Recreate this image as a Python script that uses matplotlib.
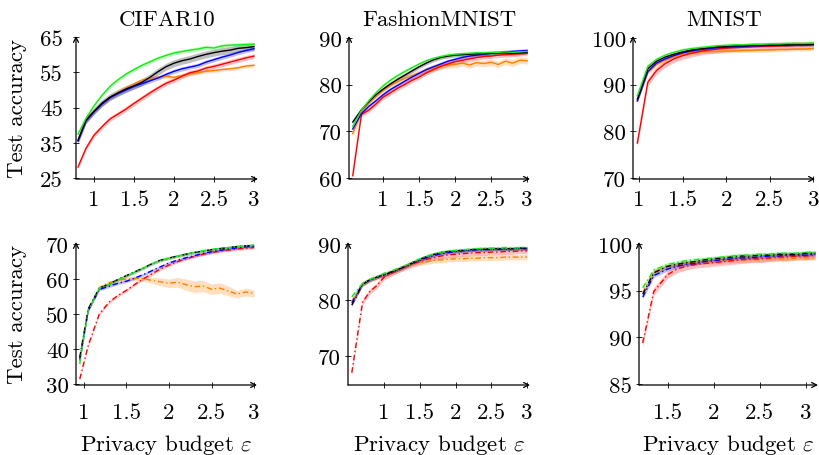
import matplotlib
matplotlib.use("Agg")
import matplotlib.pyplot as plt
import numpy as np

plt.rcParams['font.family'] = ['cmr10', 'DejaVu Serif']
plt.rcParams['mathtext.fontset'] = 'cm'
plt.rcParams['axes.formatter.use_mathtext'] = True

# ---------------- data ----------------
series_names = ['orange', 'red', 'blue', 'black', 'green']
series_colors = ['#ff8000', '#ff0000', '#0000ff', '#000000', '#18e818']

# CIFAR10 (top)
c10_eps = [0.8, 0.9, 1.0, 1.1, 1.2, 1.3, 1.4, 1.5, 1.6, 1.7, 1.8, 1.9, 2.0, 2.1, 2.2, 2.3, 2.4, 2.5, 2.6, 2.7, 2.8, 2.9, 3.0]
c10_green = [37.5, 42.0, 45.5, 48.5, 51.0, 52.9, 54.5, 55.8, 57.0, 58.0, 59.0, 59.8, 60.5, 60.9, 61.3, 61.6, 62.1, 61.9, 62.5, 62.7, 62.8, 62.9, 63.0]
c10_red = [28.2, 33.5, 37.2, 39.6, 41.8, 43.2, 44.6, 46.2, 47.7, 49.2, 50.6, 51.9, 52.8, 53.9, 54.9, 55.4, 56.2, 56.7, 57.3, 57.9, 58.5, 59.1, 59.6]
c10_black = [35.8, 41.5, 44.0, 46.3, 48.0, 49.2, 50.3, 51.2, 52.2, 53.6, 55.2, 56.6, 57.6, 58.3, 58.8, 59.5, 60.1, 60.6, 61.0, 61.3, 61.8, 62.0, 62.3]
c10_blue = [35.5, 41.2, 43.8, 46.0, 47.8, 49.0, 50.0, 51.0, 51.8, 52.6, 53.4, 54.4, 55.3, 56.0, 56.5, 57.0, 57.9, 58.6, 59.3, 59.9, 60.6, 61.2, 61.7]
c10_orange = [35.8, 41.3, 43.9, 46.1, 47.9, 49.3, 50.6, 51.7, 52.8, 53.4, 53.6, 53.9, 53.6, 54.1, 54.6, 54.9, 55.3, 55.5, 55.8, 56.0, 56.3, 56.8, 57.0]
c10_band = [0.5, 0.7, 0.6, 1.0, 0.6]

# FashionMNIST (top)
fm_eps = [0.58, 0.7, 0.8, 0.9, 1.0, 1.1, 1.2, 1.3, 1.4, 1.5, 1.6, 1.7, 1.8, 1.9, 2.0, 2.1, 2.2, 2.3, 2.4, 2.5, 2.6, 2.7, 2.8, 2.9, 3.0]
fm_green = [71.0, 74.5, 76.5, 78.2, 79.7, 80.9, 81.9, 82.8, 83.6, 84.4, 85.1, 85.6, 86.0, 86.3, 86.5, 86.6, 86.7, 86.8, 86.8, 86.9, 86.9, 87.0, 86.9, 87.0, 87.1]
fm_red = [60.5, 73.6, 74.5, 75.8, 77.3, 78.2, 79.2, 80.0, 80.9, 81.6, 82.5, 83.2, 83.9, 84.4, 84.9, 85.2, 85.5, 85.8, 86.0, 86.1, 86.3, 86.4, 86.5, 86.6, 86.7]
fm_black = [72.0, 74.6, 76.3, 77.8, 79.0, 80.1, 81.1, 82.0, 82.9, 83.8, 84.6, 85.3, 85.8, 86.1, 86.3, 86.4, 86.5, 86.6, 86.6, 86.7, 86.8, 86.8, 86.7, 86.8, 86.9]
fm_blue = [70.5, 73.8, 75.3, 76.5, 77.8, 78.9, 79.8, 80.7, 81.6, 82.4, 83.2, 83.8, 84.4, 85.0, 85.4, 85.8, 86.1, 86.3, 86.5, 86.7, 86.8, 87.0, 87.1, 87.2, 87.3]
fm_orange = [69.5, 74.2, 76.0, 77.4, 78.8, 79.8, 80.6, 81.3, 81.9, 82.5, 83.1, 83.6, 84.0, 84.2, 84.3, 84.6, 84.2, 84.7, 84.5, 84.8, 84.3, 85.0, 84.6, 85.2, 85.1]
fm_band = [0.7, 0.5, 0.4, 0.4, 0.4]

# MNIST (top)
mn_eps = [0.98, 1.1, 1.2, 1.3, 1.4, 1.5, 1.6, 1.7, 1.8, 1.9, 2.0, 2.1, 2.2, 2.3, 2.4, 2.5, 2.6, 2.7, 2.8, 2.9, 3.0]
mn_green = [87.6, 93.9, 95.4, 96.3, 96.9, 97.4, 97.7, 97.9, 98.1, 98.3, 98.4, 98.5, 98.5, 98.6, 98.6, 98.7, 98.7, 98.8, 98.8, 98.8, 98.9]
mn_black = [86.9, 93.4, 95.0, 95.9, 96.5, 97.0, 97.4, 97.7, 97.9, 98.1, 98.2, 98.3, 98.3, 98.4, 98.4, 98.5, 98.5, 98.5, 98.6, 98.6, 98.6]
mn_blue = [86.5, 92.8, 94.6, 95.5, 96.2, 96.8, 97.2, 97.5, 97.7, 97.9, 98.0, 98.1, 98.2, 98.3, 98.3, 98.4, 98.4, 98.5, 98.5, 98.5, 98.6]
mn_red = [77.5, 90.5, 93.0, 94.5, 95.5, 96.2, 96.7, 97.1, 97.4, 97.6, 97.8, 97.9, 98.0, 98.1, 98.2, 98.2, 98.3, 98.3, 98.4, 98.4, 98.5]
mn_orange = [86.5, 92.6, 94.3, 95.3, 96.0, 96.5, 96.8, 97.0, 97.1, 97.1, 97.2, 97.2, 97.3, 97.3, 97.4, 97.4, 97.5, 97.5, 97.6, 97.6, 97.7]
mn_band = [0.4, 0.8, 0.3, 0.3, 0.4]

# CIFAR10 (bottom)
c10b_eps = [0.95, 1.05, 1.18, 1.3, 1.4, 1.5, 1.6, 1.7, 1.8, 1.9, 2.0, 2.1, 2.2, 2.3, 2.4, 2.5, 2.6, 2.7, 2.8, 2.9, 3.0]
c10b_green = [35.7, 51.0, 57.4, 58.5, 59.8, 60.9, 62.0, 63.2, 64.4, 65.4, 66.0, 66.6, 67.1, 67.7, 68.1, 68.5, 68.8, 69.0, 69.3, 69.5, 69.7]
c10b_black = [37.6, 51.5, 57.4, 58.6, 59.9, 61.0, 62.1, 63.2, 64.4, 65.4, 66.0, 66.6, 67.1, 67.6, 68.0, 68.4, 68.7, 69.0, 69.3, 69.5, 69.6]
c10b_blue = [37.0, 51.0, 57.0, 58.0, 58.8, 59.4, 60.3, 61.3, 62.4, 63.5, 64.6, 65.4, 66.1, 66.7, 67.3, 67.8, 68.2, 68.6, 68.9, 69.2, 69.4]
c10b_red = [31.4, 41.0, 50.0, 53.5, 55.3, 56.8, 58.5, 60.1, 61.5, 62.9, 64.0, 65.0, 65.8, 66.5, 67.1, 67.6, 68.0, 68.3, 68.6, 68.8, 69.0]
c10b_orange = [36.5, 51.3, 57.6, 59.0, 59.6, 60.0, 60.2, 60.1, 59.6, 59.2, 58.8, 59.1, 58.4, 57.8, 58.0, 57.1, 57.4, 56.6, 55.7, 56.3, 55.9]
c10b_orange_band = [0.3, 0.3, 0.4, 0.5, 0.6, 0.6, 0.6, 0.7, 0.9, 1.1, 1.2, 1.4, 1.6, 1.7, 1.6, 1.5, 1.5, 1.4, 1.1, 1.1, 1.0]
c10b_band = [c10b_orange_band, 0.4, 0.4, 0.4, 0.4]

# FashionMNIST (bottom)
fmb_eps = [0.55, 0.7, 0.8, 0.9, 1.0, 1.1, 1.2, 1.3, 1.4, 1.5, 1.6, 1.7, 1.8, 1.9, 2.0, 2.1, 2.2, 2.3, 2.4, 2.5, 2.6, 2.7, 2.8, 2.9, 3.0]
fmb_green = [80.6, 83.0, 83.7, 84.2, 84.8, 85.2, 85.7, 86.2, 86.8, 87.4, 87.9, 88.3, 88.6, 88.8, 88.9, 89.0, 89.1, 89.2, 89.3, 89.3, 89.3, 89.4, 89.3, 89.4, 89.4]
fmb_black = [79.1, 82.8, 83.6, 84.1, 84.5, 85.0, 85.5, 86.1, 86.7, 87.3, 87.8, 88.2, 88.5, 88.7, 88.8, 88.9, 89.0, 89.1, 89.1, 89.2, 89.2, 89.2, 89.2, 89.3, 89.3]
fmb_blue = [79.5, 82.9, 83.6, 84.1, 84.5, 85.0, 85.5, 86.0, 86.6, 87.1, 87.6, 88.0, 88.3, 88.5, 88.7, 88.8, 88.9, 89.0, 89.0, 89.1, 89.1, 89.1, 89.2, 89.2, 89.2]
fmb_red = [67.0, 79.6, 81.5, 82.6, 84.1, 84.8, 85.4, 86.0, 86.5, 86.9, 87.3, 87.6, 87.9, 88.1, 88.2, 88.3, 88.4, 88.5, 88.5, 88.6, 88.6, 88.7, 88.7, 88.8, 88.8]
fmb_orange = [79.8, 82.9, 83.6, 84.1, 84.4, 84.9, 85.4, 85.9, 86.4, 86.7, 86.9, 87.1, 87.2, 87.3, 87.4, 87.4, 87.5, 87.5, 87.6, 87.6, 87.6, 87.7, 87.7, 87.7, 87.7]
fmb_band = [0.5, 0.5, 0.3, 0.3, 0.3]

# MNIST (bottom)
mnb_eps = [1.23, 1.35, 1.5, 1.6, 1.7, 1.8, 1.9, 2.0, 2.1, 2.2, 2.3, 2.4, 2.5, 2.6, 2.7, 2.8, 2.9, 3.0, 3.1]
mnb_green = [95.3, 97.2, 97.8, 98.0, 98.2, 98.3, 98.4, 98.5, 98.6, 98.7, 98.8, 98.8, 98.9, 98.9, 99.0, 99.0, 99.0, 99.1, 99.1]
mnb_black = [94.6, 96.9, 97.6, 97.8, 98.0, 98.1, 98.3, 98.4, 98.5, 98.6, 98.7, 98.7, 98.8, 98.8, 98.9, 98.9, 98.9, 99.0, 99.0]
mnb_blue = [94.3, 96.6, 97.3, 97.6, 97.8, 97.9, 98.1, 98.2, 98.3, 98.4, 98.5, 98.5, 98.6, 98.7, 98.7, 98.8, 98.8, 98.8, 98.9]
mnb_red = [89.4, 94.9, 96.7, 97.3, 97.6, 97.8, 97.9, 98.0, 98.1, 98.2, 98.3, 98.4, 98.4, 98.5, 98.6, 98.6, 98.7, 98.7, 98.8]
mnb_orange = [94.8, 97.0, 97.6, 97.8, 97.9, 98.0, 98.1, 98.1, 98.2, 98.2, 98.3, 98.3, 98.3, 98.4, 98.4, 98.4, 98.5, 98.5, 98.5]
mnb_band = [0.25, 0.4, 0.2, 0.2, 0.2]

titles = ['CIFAR10', 'FashionMNIST', 'MNIST']
xtick_labels = ['1', '1.5', '2', '2.5', '3']
xticks_main = [1, 1.5, 2, 2.5, 3]
xticks_br = [1.5, 2, 2.5, 3]

# ---------------- figure ----------------
W, H = 819, 456
fig = plt.figure(figsize=(W / 100, H / 100), dpi=100)
FS = 16.5


def rect(l, r, t, b):
    return [l / W, 1 - b / H, (r - l) / W, (b - t) / H]


dashdot = (0, (4, 2, 1, 2))
panels = [
    dict(rect=rect(76, 258, 37, 180), eps=c10_eps,
         ys=[c10_orange, c10_red, c10_blue, c10_black, c10_green], band=c10_band,
         xlim=(0.775, 3.05), ylim=(24.8, 65.3), yt=[25, 35, 45, 55, 65], xt=xticks_main,
         ls='-', title=titles[0], ypad=7.5, xpad=5.5),
    dict(rect=rect(349, 530, 37, 180), eps=fm_eps,
         ys=[fm_orange, fm_red, fm_blue, fm_black, fm_green], band=fm_band,
         xlim=(0.528, 3.04), ylim=(59.8, 90.4), yt=[60, 70, 80, 90], xt=xticks_main,
         ls='-', title=titles[1], ypad=3, xpad=5.5),
    dict(rect=rect(633, 815, 37, 180), eps=mn_eps,
         ys=[mn_orange, mn_red, mn_blue, mn_black, mn_green], band=mn_band,
         xlim=(0.93, 3.02), ylim=(69.8, 100.4), yt=[70, 80, 90, 100], xt=xticks_main,
         ls='-', title=titles[2], ypad=3, xpad=5.5),
    dict(rect=rect(76, 257, 243, 386), eps=c10b_eps,
         ys=[c10b_orange, c10b_red, c10b_blue, c10b_black, c10b_green], band=c10b_band,
         xlim=(0.906, 3.035), ylim=(29.7, 70.6), yt=[30, 40, 50, 60, 70], xt=xticks_main,
         ls=dashdot, title=None, ypad=3, xpad=10.5),
    dict(rect=rect(348, 530, 243, 386), eps=fmb_eps,
         ys=[fmb_orange, fmb_red, fmb_blue, fmb_black, fmb_green], band=fmb_band,
         xlim=(0.497, 3.04), ylim=(64.8, 90.4), yt=[70, 80, 90], xt=xticks_main,
         ls=dashdot, title=None, ypad=3, xpad=10.5),
    dict(rect=rect(639, 818, 243, 386), eps=mnb_eps,
         ys=[mnb_orange, mnb_red, mnb_blue, mnb_black, mnb_green], band=mnb_band,
         xlim=(1.19, 3.13), ylim=(84.9, 100.2), yt=[85, 90, 95, 100], xt=xticks_br,
         ls=dashdot, title=None, ypad=3, xpad=10.5),
]

for p in panels:
    ax = fig.add_axes(p['rect'])
    x = np.array(p['eps'])
    for y, b, c in zip(p['ys'], p['band'], series_colors):
        y = np.array(y)
        b = np.array(b) if np.ndim(b) else b
        ax.fill_between(x, y - b, y + b, color=c, alpha=0.25, lw=0)
        ax.plot(x, y, color=c, lw=1.0, ls=p['ls'])
    ax.set_xlim(*p['xlim'])
    ax.set_ylim(*p['ylim'])
    ax.set_yticks(p['yt'])
    ax.set_yticklabels([str(v) for v in p['yt']])
    ax.set_xticks(p['xt'])
    ax.set_xticklabels([xtick_labels[xticks_main.index(v)] for v in p['xt']])
    for s in ax.spines.values():
        s.set_visible(False)
    ax.tick_params(axis='both', direction='inout', length=4, width=0.6, labelsize=FS)
    ax.tick_params(axis='y', pad=p['ypad'])
    ax.tick_params(axis='x', pad=p['xpad'])
    arrow = dict(arrowstyle='->', lw=0.9, color='k', shrinkA=0, shrinkB=0, mutation_scale=9)
    ax.annotate('', xy=(1, 0), xytext=(0, 0), xycoords='axes fraction', arrowprops=arrow)
    ax.annotate('', xy=(0, 1), xytext=(0, 0), xycoords='axes fraction', arrowprops=arrow)
    if p['title']:
        ax.set_title(p['title'], fontsize=FS, pad=8)
    else:
        cx = p['rect'][0] + p['rect'][2] / 2
        fig.text(cx, 5 / H, r'Privacy budget $\varepsilon$', fontsize=FS, ha='center', va='baseline')

fig.text(17 / W, 1 - 108.5 / H, 'Test accuracy', rotation=90, fontsize=FS, ha='center', va='center')
fig.text(17 / W, 1 - 314.5 / H, 'Test accuracy', rotation=90, fontsize=FS, ha='center', va='center')

fig.savefig('out.png', dpi=100)
